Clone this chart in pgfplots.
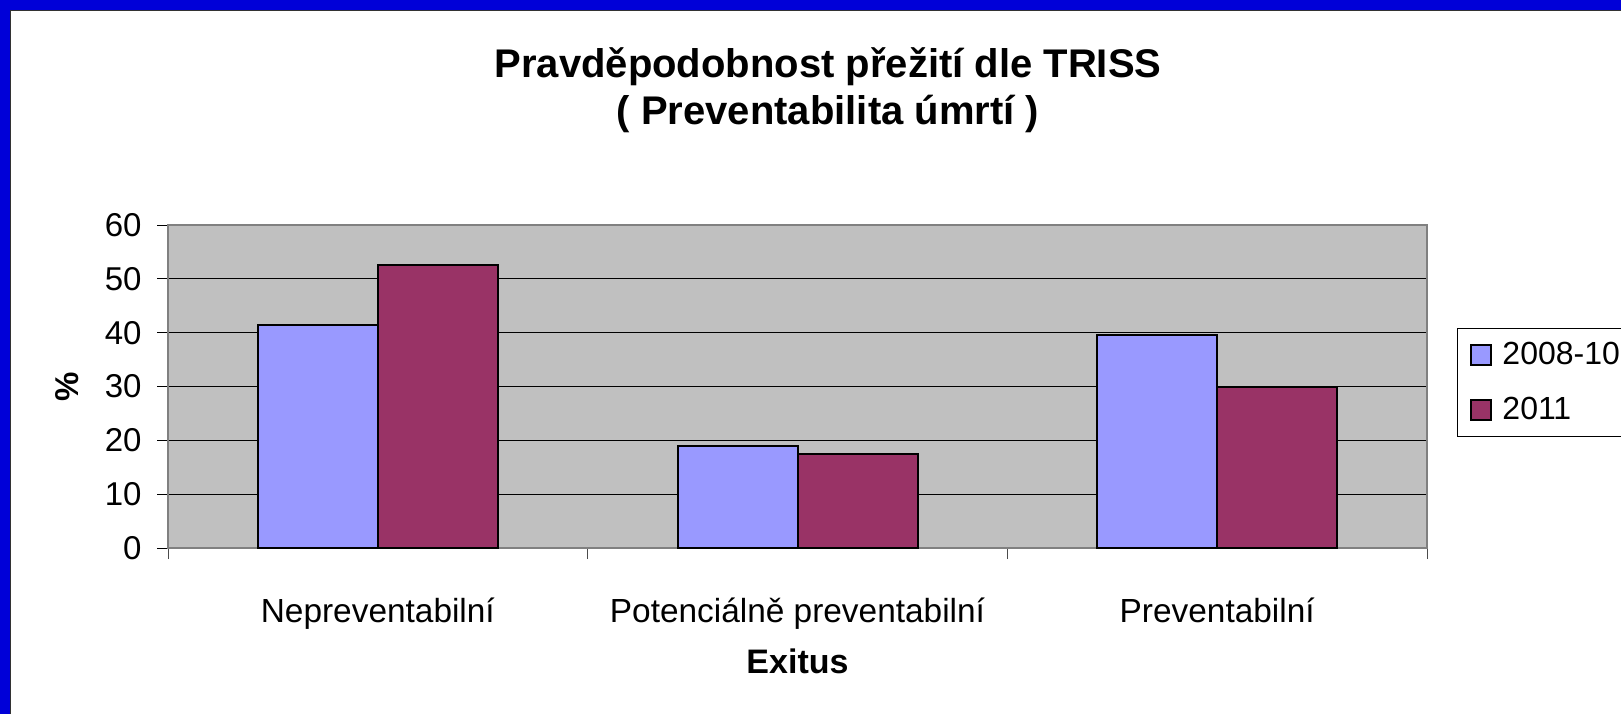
\documentclass[border=0pt]{standalone}
\usepackage{fontspec}
\setmainfont{Liberation Sans}
\usepackage{pgfplots}
\pgfplotsset{compat=1.18}
\definecolor{serA}{HTML}{9999FF}
\definecolor{serB}{HTML}{993366}
\definecolor{plotbg}{HTML}{C0C0C0}
\definecolor{frameblue}{HTML}{0000D8}
\begin{document}
\begin{tikzpicture}[x=0.5pt,y=0.5pt]
\useasboundingbox (0,0) rectangle (1621,714);
\clip (0,0) rectangle (1621,714);
\fill[white] (0,0) rectangle (1621,714);
\fill[frameblue] (0,704) rectangle (1621,714);
\fill[frameblue] (0,0) rectangle (10,714);
\draw[black!80, line width=0.6pt] (10.5,0) -- (10.5,703.5) -- (1621,703.5);
\begin{axis}[
  at={(84pt,83pt)}, anchor=south west,
  width=629.5pt, height=161.5pt, scale only axis,
  ybar=0pt, bar width=60pt,
  xmin=-0.5, xmax=2.5, ymin=0, ymax=60,
  ytick={0,10,...,60},
  xtick={0,1,2},
  minor xtick={-0.5,0.5,1.5,2.5},
  xtick pos=bottom, ytick pos=left,
  xticklabels={Nepreventabilní, Potenciálně preventabilní, Preventabilní},
  major x tick style={draw=none},
  minor x tick style={draw=black!70, line width=0.5pt},
  minor tick length=5.5pt,
  ymajorgrids,
  major grid style={draw=black, line width=0.5pt},
  major y tick style={draw=black, line width=0.5pt},
  major tick length=5.5pt,
  tick align=outside,
  axis line style={draw=black!50, line width=0.8pt},
  axis background/.style={fill=plotbg},
  /pgf/number format/assume math mode=true,
  yticklabel style={font=\fontsize{16.5pt}{18pt}\selectfont, anchor=east, inner sep=0pt, xshift=-7.5pt},
  xticklabel style={font=\fontsize{16.7pt}{18pt}\selectfont, anchor=base, yshift=-31.5pt},
  xlabel={Exitus},
  xlabel style={font=\fontsize{17pt}{19pt}\selectfont\bfseries, at={(axis description cs:0.5,-0.387)}, anchor=base},
  ylabel={\%},
  ylabel style={font=\fontsize{16.5pt}{18pt}\selectfont\bfseries, at={(axis description cs:-0.0802,0.5)}, anchor=center},
  legend style={at={(axis description cs:1.0238,0.681)}, anchor=north west, draw=black, line width=0.5pt, fill=white,
    font=\fontsize{16pt}{18pt}\selectfont, inner xsep=6.5pt, inner ysep=5pt, row sep=10.5pt, column sep=3pt,
    nodes={inner sep=2pt}},
  legend cell align=left,
  legend image code/.code={\draw[#1, draw=black, line width=1pt] (0pt,-5pt) rectangle (10pt,5pt);},
]
\addplot[fill=serA, draw=black, line width=1pt] coordinates {(0,41.5) (1,18.9) (2,39.5)};
\addplot[fill=serB, draw=black, line width=1pt] coordinates {(0,52.6) (1,17.5) (2,29.9)};
\legend{2008-10, 2011}
\end{axis}
\node[anchor=base, font=\fontsize{20pt}{24pt}\selectfont\bfseries] at (828,636.5) {Pravděpodobnost přežití dle TRISS};
\node[anchor=base, font=\fontsize{20pt}{24pt}\selectfont\bfseries] at (828,589) {( Preventabilita úmrtí )};
\end{tikzpicture}
\end{document}
